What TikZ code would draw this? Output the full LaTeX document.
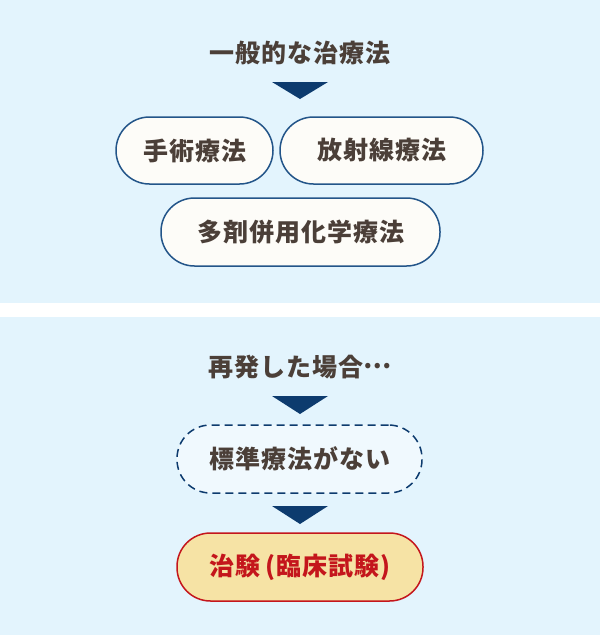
\documentclass[tikz,border=0pt]{standalone}
\usepackage{fontspec}
\setmainfont{Noto Sans CJK JP}
\definecolor{panelblue}{HTML}{E3F4FD}
\definecolor{pillfill}{HTML}{FDFCF8}
\definecolor{pillline}{HTML}{235589}
\definecolor{navy}{HTML}{0D3B6E}
\definecolor{textbrown}{HTML}{4B3F38}
\definecolor{trialfill}{HTML}{F6E3A5}
\definecolor{trialred}{HTML}{C4161C}
\definecolor{dashfill}{HTML}{F0F9FE}
\tikzset{
  heading/.style={text=textbrown, font=\fontsize{25}{30}\bfseries\addfontfeatures{LetterSpace=4}},
  pill/.style={draw=pillline, line width=1.5pt, fill=pillfill, rounded corners=33.5pt,
    minimum height=67pt, inner sep=0pt, text=textbrown,
    font=\fontsize{25}{30}\bfseries\addfontfeatures{LetterSpace=4}},
  dashpill/.style={pill, draw=navy, fill=dashfill, dash pattern=on 8pt off 5pt},
  trialpill/.style={pill, draw=trialred, fill=trialfill, text=trialred},
  downtri/.style={fill=navy}
}
\begin{document}
\begin{tikzpicture}[x=1pt, y=-1pt]
  \useasboundingbox (0,0) rectangle (600,635);
  \fill[white] (0,0) rectangle (600,635);
  % panels
  \fill[panelblue] (0,0) rectangle (600,303);
  \fill[panelblue] (0,317) rectangle (600,635);

  % general treatment
  \node[heading] (general) at (300,53) {一般的な治療法};
  \fill[downtri] (272,82) -- (328,82) -- (300,99) -- cycle;
  \node[pill, minimum width=157pt] (surgery) at (194.5,150.5) {手術療法};
  \node[pill, minimum width=203pt] (radiation) at (381.5,150.5) {放射線療法};
  \node[pill, minimum width=279pt, minimum height=68pt] (chemo) at (300.5,232) {多剤併用化学療法};

  % relapse
  \node[heading] (relapse) at (300,367) {再発した場合\raisebox{0.32em}{…}};
  \fill[downtri] (272,396) -- (328,396) -- (300,414) -- cycle;
  \node[dashpill, minimum width=245pt, minimum height=68pt] (nostandard) at (299.5,459) {標準療法がない};
  \fill[downtri] (272,506) -- (328,506) -- (300,524) -- cycle;
  \node[trialpill, minimum width=246pt, minimum height=68pt] (trial) at (300,567) {治験\,(臨床試験)};
\end{tikzpicture}
\end{document}
